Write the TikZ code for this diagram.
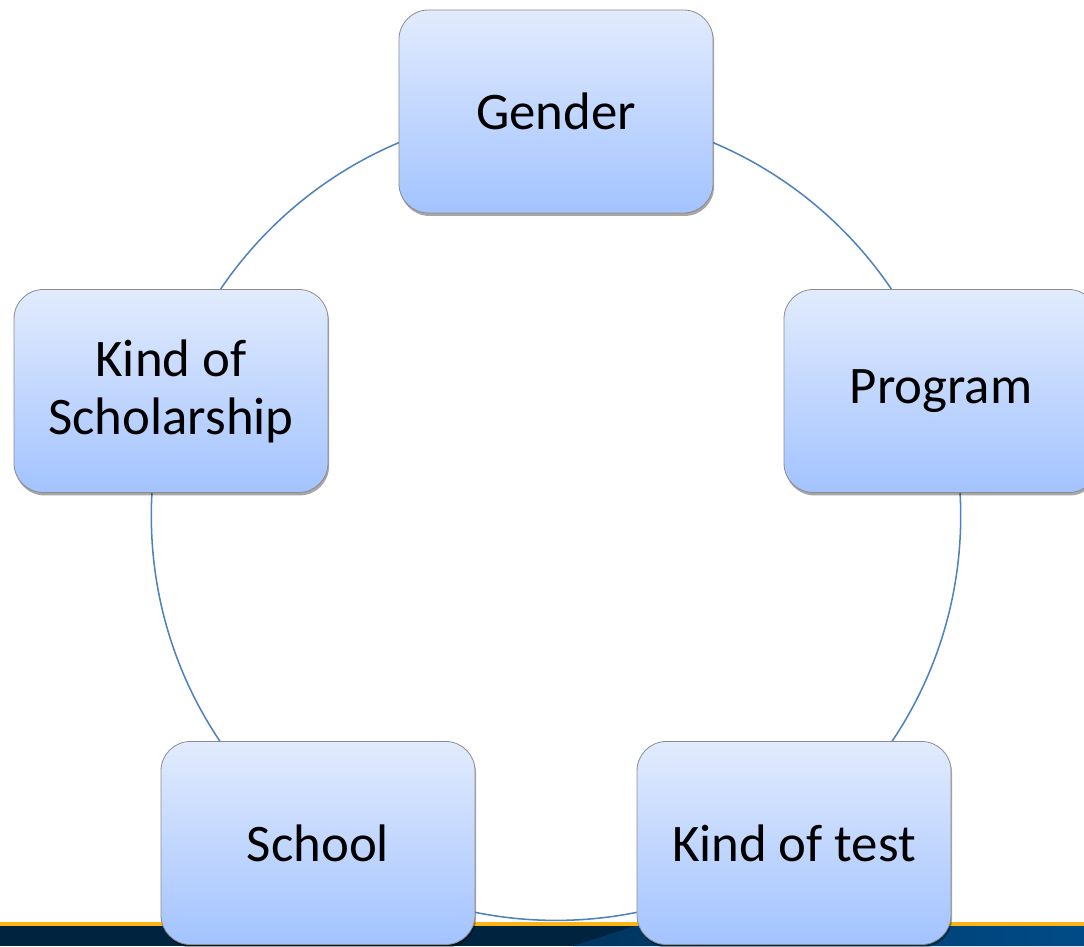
\documentclass[tikz,border=0pt]{standalone}
\usepackage{fontspec}
\setmainfont{Carlito}
\usetikzlibrary{shadows}

\definecolor{boxtop}{RGB}{225,235,253}
\definecolor{boxbot}{RGB}{163,195,255}
\definecolor{boxline}{RGB}{140,140,140}
\definecolor{ringblue}{RGB}{79,129,189}
\definecolor{bandgold}{RGB}{253,181,21}
\definecolor{bandnavy}{RGB}{0,36,63}
\definecolor{bandmid}{RGB}{0,53,95}
\definecolor{bandblue}{RGB}{0,75,135}

\begin{document}
\begin{tikzpicture}[x=0.75pt, y=0.75pt,
	cat/.style={rectangle, rounded corners=22pt, draw=boxline, line width=0.6pt,
		top color=boxtop, bottom color=boxbot, minimum width=235.5pt, minimum height=152.25pt,
		align=center, font=\fontsize{39.6}{43.5}\selectfont,
		drop shadow={shadow xshift=0.8pt, shadow yshift=-2.2pt, opacity=0.35, fill=black}},
	ring/.style={draw=ringblue, line width=1.15pt}]
		\useasboundingbox (0,0) rectangle (1084,946);
		\fill[bandnavy] (0,0) rectangle (1084,20.5);
		\shade[left color=bandmid, right color=bandblue] (573,0) -- (637,20.5) -- (1084,20.5) -- (1084,0) -- cycle;
		\fill[bandgold] (0,20.5) rectangle (1084,24.5);
		\coordinate (c) at (556,430.3);
		\draw[ring] (c) circle (404.7);
		\node[cat] (gender) at (556,834.5) {Gender};
		\node[cat] (program) at (941,555) {Program};
		\node[cat] (test) at (794,103) {Kind of test};
		\node[cat] (school) at (318,103) {School};
		\node[cat] (scholarship) at (171,555) {Kind of\\Scholarship};
	\end{tikzpicture}
\end{document}
